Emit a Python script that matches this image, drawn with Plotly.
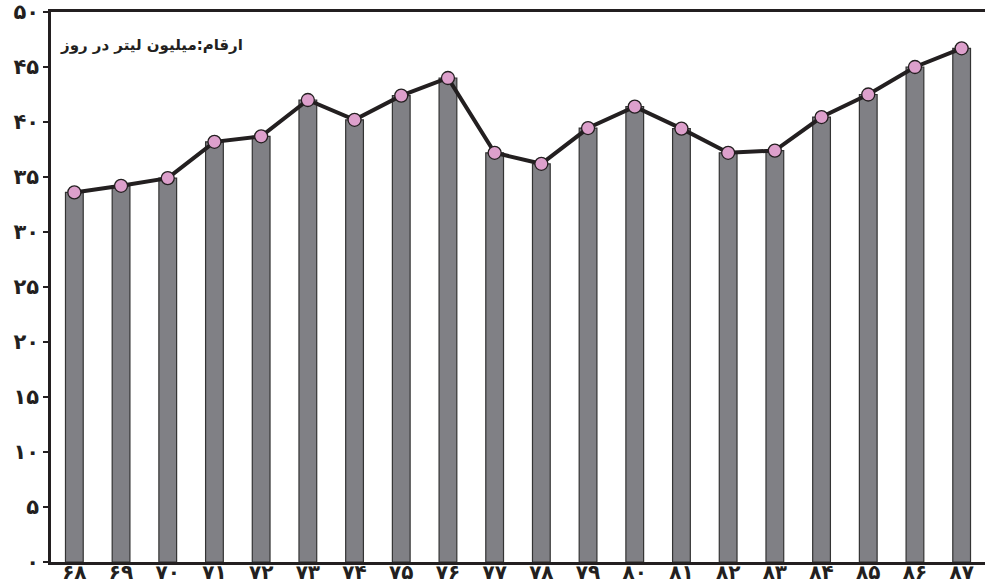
import plotly.graph_objects as go

years = ["۶۸", "۶۹", "۷۰", "۷۱", "۷۲", "۷۳", "۷۴", "۷۵", "۷۶", "۷۷",
         "۷۸", "۷۹", "۸۰", "۸۱", "۸۲", "۸۳", "۸۴", "۸۵", "۸۶", "۸۷"]
values = [33.6, 34.2, 34.9, 38.2, 38.7, 42.0, 40.2, 42.4, 44.0, 37.2,
          36.2, 39.45, 41.4, 39.4, 37.2, 37.4, 40.45, 42.5, 45.0, 46.7]
ytick_vals = [0, 5, 10, 15, 20, 25, 30, 35, 40, 45, 50]
ytick_text = ["۰", "۵", "۱۰", "۱۵", "۲۰", "۲۵", "۳۰", "۳۵", "۴۰", "۴۵", "۵۰"]
unit_label = "ارقام:میلیون لیتر در روز"

FONT = "DejaVu Sans"

fig = go.Figure()
fig.add_trace(go.Bar(
    x=years, y=values, width=0.38,
    marker=dict(color="#808085", line=dict(color="#333333", width=1.2)),
    hoverinfo="skip",
))
fig.add_trace(go.Scatter(
    x=years, y=values, mode="lines+markers",
    line=dict(color="#231f20", width=4),
    marker=dict(size=13, color="#dda0cc", line=dict(color="#231f20", width=1.3)),
))

fig.add_annotation(
    x=0, y=1, xref="paper", yref="paper", xanchor="left", yanchor="top",
    xshift=7, yshift=-22,
    text="<b>" + unit_label + "</b>", showarrow=False,
    font=dict(family=FONT, size=15, color="#231f20"),
)

fig.update_layout(
    width=985, height=587,
    margin=dict(l=51, r=0, t=12, b=25),
    paper_bgcolor="white", plot_bgcolor="white",
    showlegend=False,
    font=dict(family=FONT, color="#231f20"),
)
fig.update_xaxes(
    type="category", showgrid=False, showline=True, linecolor="#231f20",
    linewidth=2.5, mirror=True, ticks="", range=[-0.5, 19.5],
    ticklabelstandoff=-10,
    tickfont=dict(family=FONT, size=20, color="#231f20", weight="bold"),
)
fig.update_yaxes(
    range=[0, 50], showgrid=False, showline=True, linecolor="#231f20",
    linewidth=2.5, ticks="outside", ticklen=5, tickwidth=1.5, tickcolor="#231f20",
    tickvals=ytick_vals, ticktext=ytick_text, zeroline=False, mirror=False,
    tickfont=dict(family=FONT, size=21, color="#231f20", weight="bold"),
)

fig.write_html(
    "out.html",
    config={"displayModeBar": False},
    post_script="document.body.style.margin='0';document.body.style.overflow='hidden';",
)
